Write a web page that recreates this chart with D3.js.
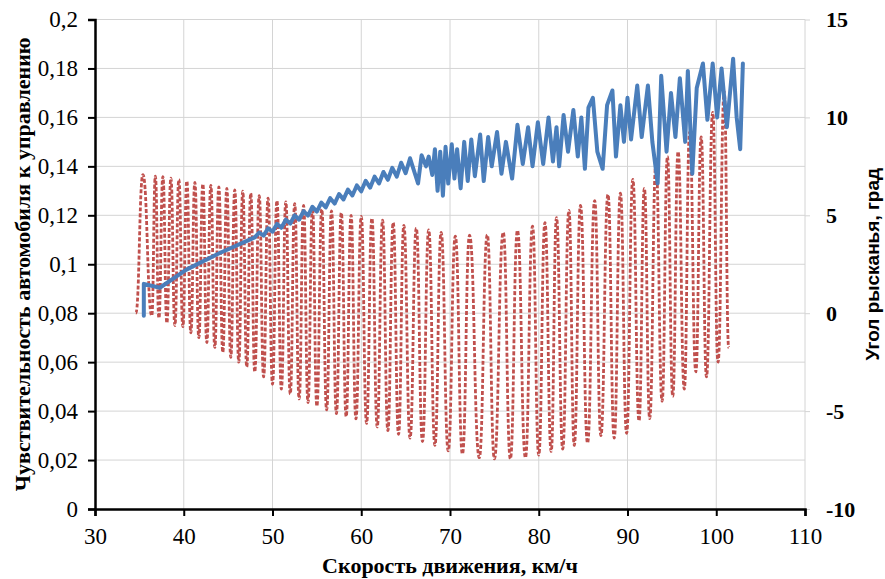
<!DOCTYPE html>
<html>
<head>
<meta charset="utf-8">
<script src="https://cdn.jsdelivr.net/npm/d3@7"></script>
<style>
body { margin: 0; background: #fff; }
</style>
</head>
<body>
<svg id="chart" width="885" height="579"></svg>
<script>
// axis ticks
var speedTicks = [30, 40, 50, 60, 70, 80, 90, 100, 110];
var sensTicks = [0, 0.02, 0.04, 0.06, 0.08, 0.1, 0.12, 0.14, 0.16, 0.18, 0.2];
var yawTicks = [-10, -5, 0, 5, 10, 15];

// sensitivity to steering (left axis) vs speed
var sensSpeed = [35.5, 35.5, 37.3, 40.3, 44.0, 48.0,
  48.5, 49.0, 49.5, 50.0, 50.5, 51.0, 51.5, 52.0, 52.5, 53.0, 53.5, 54.0, 54.5, 55.0,
  55.5, 56.0, 56.5, 57.0, 57.5, 58.0, 58.5, 59.0, 59.5, 60.0, 60.5, 61.0, 61.5, 62.0,
  62.5, 63.0, 63.5, 64.0, 64.5, 65.0, 65.5,
  66.4, 66.8, 67.3, 67.6, 68.0,
  68.3, 68.6, 68.9, 69.2, 69.5, 69.8,
  70.2, 70.5, 70.8, 71.2, 71.6, 72.0, 72.4, 72.8,
  73.4, 73.8, 74.3, 74.7, 75.3, 75.8, 76.3, 77.0,
  77.6, 78.2, 78.8, 79.3, 79.9, 80.5, 81.1, 81.6,
  82.0, 82.3, 82.8, 83.3, 83.9, 84.4, 84.8, 85.2, 85.6,
  86.1, 86.6, 87.2, 87.7, 88.3, 88.7, 89.2, 89.6, 90.0, 90.4,
  91.1, 91.6, 92.3, 92.8, 93.4, 93.8, 94.4, 94.9, 95.4, 95.9,
  96.5, 96.8, 97.3, 97.8, 98.5, 99.0, 99.6, 100.1, 100.6, 101.2,
  101.9, 102.3, 102.7, 103.0];
var sensValue = [0.079, 0.092, 0.0904, 0.0978, 0.1045, 0.111,
  0.1129, 0.1117, 0.1147, 0.1133, 0.1165, 0.1149, 0.1182, 0.1166, 0.1200, 0.1182,
  0.1217, 0.1199, 0.1235, 0.1215, 0.1252, 0.1232, 0.1270, 0.1248, 0.1287, 0.1265,
  0.1305, 0.1281, 0.1322, 0.1298, 0.1341, 0.1313, 0.1358, 0.1330, 0.1377, 0.1345,
  0.1394, 0.1358, 0.1415, 0.1372, 0.1433,
  0.1330, 0.1445, 0.1400, 0.1440, 0.1365,
  0.147, 0.130, 0.146, 0.128, 0.148, 0.133,
  0.149, 0.135, 0.147, 0.131, 0.150, 0.134, 0.151, 0.136,
  0.153, 0.134, 0.152, 0.140, 0.154, 0.137, 0.150, 0.135,
  0.157, 0.141, 0.156, 0.140, 0.158, 0.141, 0.160, 0.142,
  0.156, 0.140, 0.161, 0.146, 0.163, 0.144, 0.160, 0.139, 0.164,
  0.168, 0.146, 0.139, 0.165, 0.171, 0.144, 0.165, 0.150, 0.168, 0.151,
  0.173, 0.152, 0.173, 0.150, 0.133, 0.177, 0.146, 0.170, 0.152, 0.176,
  0.150, 0.179, 0.137, 0.172, 0.182, 0.159, 0.182, 0.160, 0.180, 0.156,
  0.184, 0.160, 0.147, 0.182];

// yaw angle (right axis), turning points of the oscillation
var yawSpeed = [34.6, 35.4, 36.4, 36.8, 37.2, 37.65, 38.1, 38.55, 39.0, 39.45,
  39.9, 40.35, 40.8, 41.25, 41.7, 42.15, 42.6, 43.05, 43.5, 43.95,
  44.4, 44.85, 45.3, 45.75, 46.2, 46.65, 47.1, 47.55, 48.0, 48.5,
  49.0, 49.5, 50.0, 50.5, 51.0, 51.5, 52.0, 52.5, 53.0, 53.5,
  54.0, 54.5, 55.0, 55.55, 56.1, 56.65, 57.2, 57.75, 58.3, 58.85,
  59.4, 60.0, 60.6, 61.2, 61.8, 62.4, 63.0, 63.6, 64.2, 64.8,
  65.5, 66.2, 66.9, 67.6, 68.3, 69.0, 69.8, 70.6, 71.4, 72.2,
  73.3, 74.2, 75.0, 76.0, 76.8, 77.6, 78.5, 79.3, 80.0, 80.7,
  81.4, 82.0, 82.7, 83.4, 84.0, 84.7, 85.5, 86.3, 87.0, 87.8,
  88.5, 89.2, 89.9, 90.6, 91.3, 91.9, 92.5, 93.2, 93.9, 94.5,
  95.1, 95.7, 96.4, 97.0, 97.7, 98.3, 98.9, 99.6, 100.2, 100.9,
  101.4];
var yawAngle = [0.0, 7.08, -0.13, 7.0, -0.25, 6.98, -0.5, 6.9, -0.63, 6.83,
  -0.69, 6.75, -1.0, 6.68, -1.25, 6.6, -1.5, 6.53, -1.75, 6.45,
  -2.0, 6.38, -2.25, 6.3, -2.5, 6.23, -2.75, 6.13, -3.0, 6.0,
  -3.25, 5.88, -3.63, 5.75, -3.88, 5.69, -4.13, 5.6, -4.38, 5.5,
  -4.56, 5.4, -4.75, 5.31, -4.94, 5.23, -5.13, 5.13, -5.28, 5.0,
  -5.4, 4.94, -5.63, 4.85, -5.81, 4.75, -6.0, 4.63, -6.19, 4.48,
  -6.38, 4.35, -6.56, 4.25, -6.75, 4.13, -7.03, 3.94, -7.19, 3.98,
  -7.38, 4.0, -7.44, 4.13, -7.44, 4.23, -7.38, 4.44, -7.25, 4.63,
  -7.06, 4.88, -6.94, 5.25, -6.75, 5.5, -6.63, 5.75, -6.25, 6.06,
  -6.38, 6.13, -6.13, 6.83, -5.5, 6.38, -5.38, 7.63, -4.5, 8.0,
  -4.25, 8.25, -3.88, 9.25, -3.0, 9.0, -3.25, 10.25, -2.5, 11.33,
  -1.75];

var width = 885, height = 579;
var margin = {top: 19.5, right: 80, bottom: 70, left: 95};

var svg = d3.select("#chart");

var x = d3.scaleLinear().domain([30, 110]).range([margin.left, width - margin.right]);
var yL = d3.scaleLinear().domain([0, 0.2]).range([height - margin.bottom, margin.top]);
var yR = d3.scaleLinear().domain([-10, 15]).range([height - margin.bottom, margin.top]);

var ru = d3.formatLocale({decimal: ",", thousands: " ", grouping: [3], currency: ["", ""], minus: "-"});
var fmtL = ru.format(".2~f");
var fmtR = ru.format("d");

var serif = "'Liberation Serif', 'Times New Roman', serif";
var sans = "'Liberation Sans', Arial, sans-serif";

// grid
var grid = svg.append("g").attr("stroke", "#d4d4d4").attr("stroke-width", 1);
grid.selectAll("line.v")
  .data(speedTicks.slice(1))
  .enter().append("line")
  .attr("x1", function(d) { return x(d); })
  .attr("x2", function(d) { return x(d); })
  .attr("y1", margin.top)
  .attr("y2", height - margin.bottom);
grid.selectAll("line.h")
  .data(sensTicks.slice(1))
  .enter().append("line")
  .attr("x1", margin.left)
  .attr("x2", width - margin.right)
  .attr("y1", function(d) { return yL(d); })
  .attr("y2", function(d) { return yL(d); });

// right axis (grey ticks, no line)
var gR = svg.append("g")
  .attr("transform", "translate(" + (width - margin.right) + ",0)")
  .call(d3.axisRight(yR).tickValues(yawTicks).tickSize(5).tickPadding(16).tickFormat(fmtR));
gR.select(".domain").remove();
gR.selectAll(".tick line").attr("stroke", "#d4d4d4");
gR.selectAll(".tick text")
  .attr("font-family", serif).attr("font-size", 22).attr("font-weight", "bold").attr("fill", "#000");

// yaw angle line: near-vertical strokes with rounded tips
var yawData = yawSpeed.map(function(s, i) { return [s, yawAngle[i]]; });
var yawLine = d3.line()
  .x(function(d) { return x(d[0]); })
  .y(function(d) { return yR(d[1]); })
  .curve(d3.curveBumpX);
svg.append("path")
  .datum(yawData)
  .attr("d", yawLine)
  .attr("fill", "none")
  .attr("stroke", "#c0504d")
  .attr("stroke-width", 2.8)
  .attr("stroke-dasharray", "4,2");

// sensitivity line
var sensData = sensSpeed.map(function(s, i) { return [s, sensValue[i]]; });
var sensLine = d3.line()
  .x(function(d) { return x(d[0]); })
  .y(function(d) { return yL(d[1]); });
svg.append("path")
  .datum(sensData)
  .attr("d", sensLine)
  .attr("fill", "none")
  .attr("stroke", "#4a7ebb")
  .attr("stroke-width", 4)
  .attr("stroke-linejoin", "round")
  .attr("stroke-linecap", "round");

// bottom axis
var gX = svg.append("g")
  .attr("transform", "translate(0," + (height - margin.bottom) + ")")
  .call(d3.axisBottom(x).tickValues(speedTicks).tickSize(7).tickPadding(12).tickFormat(d3.format("d")));
gX.select(".domain").attr("stroke", "#000").attr("stroke-width", 2.5);
gX.selectAll(".tick line").attr("stroke", "#000").attr("stroke-width", 2);
gX.selectAll(".tick text")
  .attr("font-family", serif).attr("font-size", 23).attr("fill", "#000");

// left axis
var gL = svg.append("g")
  .attr("transform", "translate(" + margin.left + ",0)")
  .call(d3.axisLeft(yL).tickValues(sensTicks).tickSize(7).tickPadding(10).tickFormat(fmtL));
gL.select(".domain").attr("stroke", "#000").attr("stroke-width", 2.5);
gL.selectAll(".tick line").attr("stroke", "#000").attr("stroke-width", 2);
gL.selectAll(".tick text")
  .attr("font-family", serif).attr("font-size", 23).attr("fill", "#000");

// titles
var midY = (margin.top + height - margin.bottom) / 2;
svg.append("text")
  .attr("x", (margin.left + width - margin.right) / 2)
  .attr("y", 573)
  .attr("text-anchor", "middle")
  .attr("font-family", serif).attr("font-size", 22).attr("font-weight", "bold")
  .text("Скорость движения, км/ч");
svg.append("text")
  .attr("transform", "translate(30," + midY + ") rotate(-90)")
  .attr("text-anchor", "middle")
  .attr("font-family", serif).attr("font-size", 22).attr("font-weight", "bold")
  .text("Чувствительность автомобиля к управлению");
svg.append("text")
  .attr("transform", "translate(879," + midY + ") rotate(-90)")
  .attr("text-anchor", "middle")
  .attr("font-family", sans).attr("font-size", 19).attr("font-weight", "bold")
  .text("Угол рысканья, град");
</script>
</body>
</html>
